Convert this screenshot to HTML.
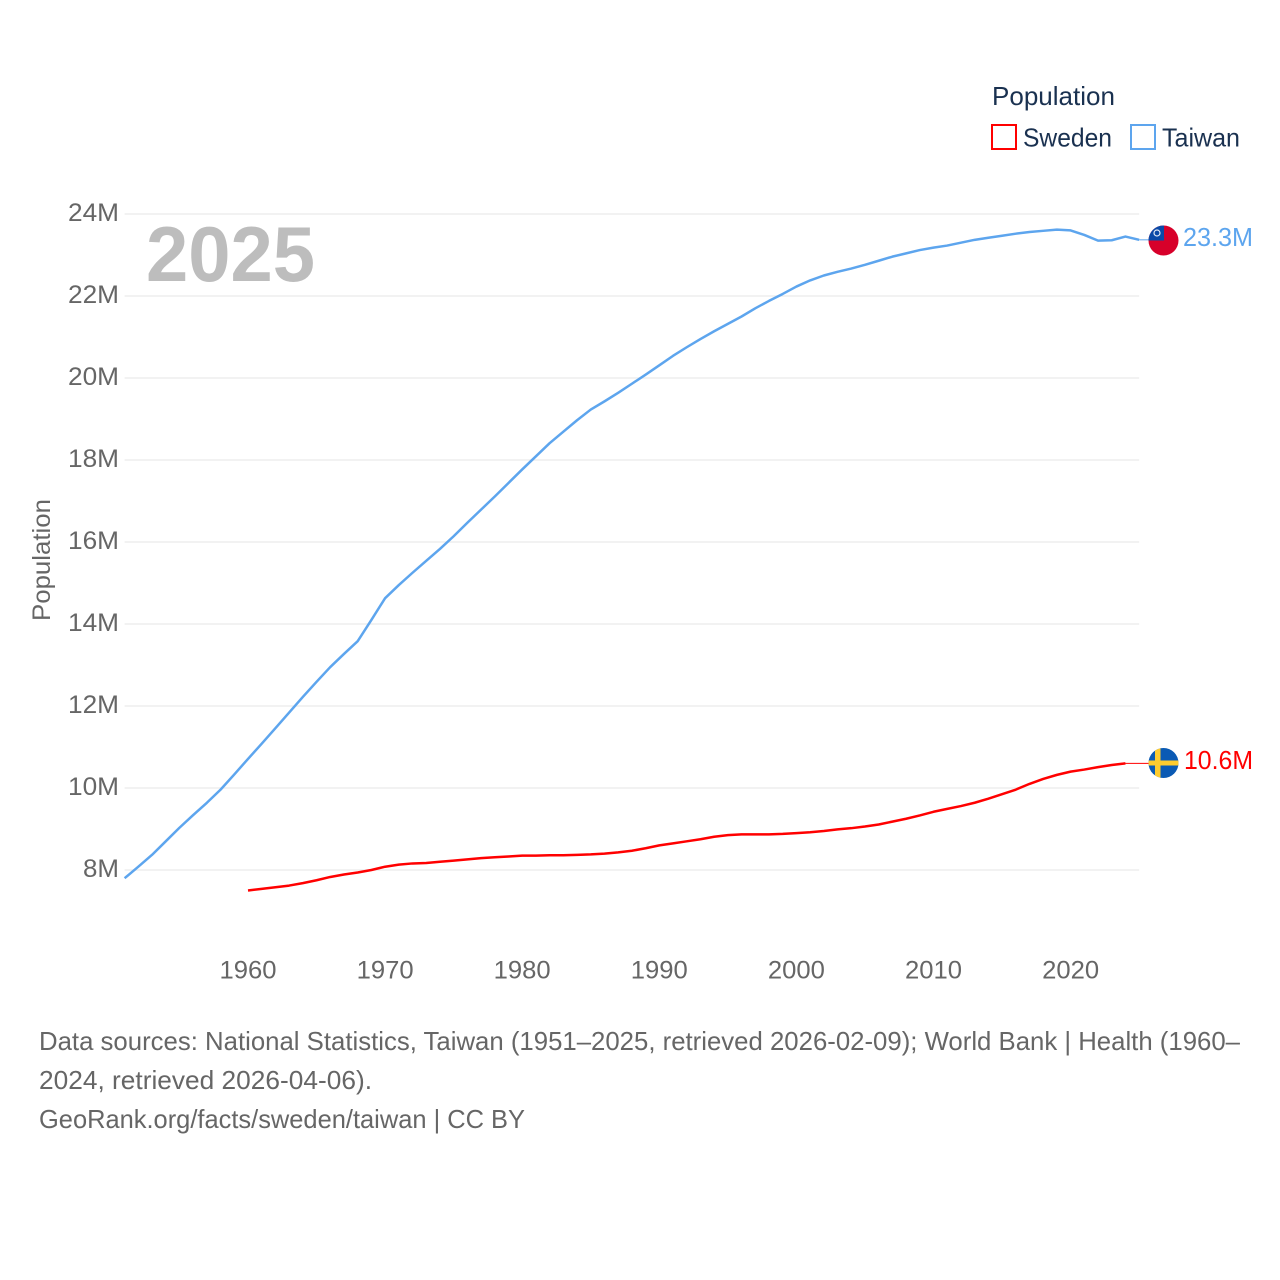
<!DOCTYPE html>
<html lang="en">
<head>
<meta charset="utf-8">
<title>Population: Sweden and Taiwan</title>
<style>
html,body{margin:0;padding:0;background:#fff;}
svg{display:block;font-family:"Liberation Sans",sans-serif;}
</style>
</head>
<body>
<svg id="chart" xmlns="http://www.w3.org/2000/svg" width="1280" height="1280" viewBox="0 0 1280 1280">
  <defs>
    <clipPath id="tw-clip"><circle cx="1163.5" cy="240.5" r="15"/></clipPath>
    <clipPath id="se-clip"><circle cx="1163.5" cy="763" r="15"/></clipPath>
  </defs>
  <rect width="1280" height="1280" fill="#fff"/>
  <g id="grid"></g>
  <g id="yticks"></g>
  <g id="xticks"></g>
  <text transform="translate(50,621) rotate(-90)" font-size="25" fill="#666" textLength="122" lengthAdjust="spacingAndGlyphs">Population</text>
  <text x="146" y="281" font-size="78" font-weight="bold" fill="#bdbdbd" textLength="169" lengthAdjust="spacingAndGlyphs">2025</text>
  <g id="series"></g>

  <g clip-path="url(#tw-clip)">
    <rect x="1148" y="225" width="31" height="31" fill="#d7002a"/>
    <rect x="1148" y="225" width="16" height="15.5" fill="#0a4aa8"/>
    <circle cx="1157" cy="233" r="3" fill="none" stroke="#dfe8f5" stroke-width="1.2"/>
  </g>
  <text x="1183" y="246" font-size="26" fill="#5da5ee" textLength="70" lengthAdjust="spacingAndGlyphs">23.3M</text>

  <g clip-path="url(#se-clip)">
    <rect x="1148" y="748" width="31" height="31" fill="#0a5ab4"/>
    <rect x="1155" y="748" width="5.5" height="31" fill="#fecc2f"/>
    <rect x="1148" y="760.5" width="31" height="5" fill="#fecc2f"/>
  </g>
  <text x="1184" y="769" font-size="26" fill="#ff0000" textLength="69" lengthAdjust="spacingAndGlyphs">10.6M</text>

  <g>
    <text x="992" y="105" font-size="26" fill="#1a3150" textLength="123" lengthAdjust="spacingAndGlyphs">Population</text>
    <rect x="992" y="125" width="24" height="24" fill="none" stroke="#ff0000" stroke-width="2"/>
    <text x="1023" y="146.5" font-size="26" fill="#1a3150" textLength="89" lengthAdjust="spacingAndGlyphs">Sweden</text>
    <rect x="1131" y="125" width="24" height="24" fill="none" stroke="#5da5ee" stroke-width="2"/>
    <text x="1162" y="146.5" font-size="26" fill="#1a3150" textLength="78" lengthAdjust="spacingAndGlyphs">Taiwan</text>
  </g>

  <g font-size="26" fill="#666">
    <text x="39" y="1050" textLength="1201" lengthAdjust="spacingAndGlyphs">Data sources: National Statistics, Taiwan (1951–2025, retrieved 2026-02-09); World Bank | Health (1960–</text>
    <text x="39" y="1089" textLength="333" lengthAdjust="spacingAndGlyphs">2024, retrieved 2026-04-06).</text>
    <text x="39" y="1128" textLength="486" lengthAdjust="spacingAndGlyphs">GeoRank.org/facts/sweden/taiwan | CC BY</text>
  </g>
</svg>
<script>
const taiwanYears = [1951,1952,1953,1954,1955,1956,1957,1958,1959,1960,1961,1962,1963,1964,1965,1966,1967,1968,1969,1970,1971,1972,1973,1974,1975,1976,1977,1978,1979,1980,1981,1982,1983,1984,1985,1986,1987,1988,1989,1990,1991,1992,1993,1994,1995,1996,1997,1998,1999,2000,2001,2002,2003,2004,2005,2006,2007,2008,2009,2010,2011,2012,2013,2014,2015,2016,2017,2018,2019,2020,2021,2022,2023,2024,2025];
const taiwanValues = [7.8,8.08,8.37,8.7,9.03,9.34,9.64,9.96,10.33,10.71,11.08,11.46,11.84,12.22,12.59,12.95,13.27,13.58,14.1,14.63,14.95,15.25,15.54,15.83,16.14,16.47,16.79,17.11,17.44,17.77,18.09,18.41,18.69,18.97,19.23,19.43,19.64,19.86,20.08,20.31,20.54,20.75,20.95,21.14,21.32,21.5,21.7,21.88,22.05,22.23,22.38,22.5,22.59,22.67,22.76,22.86,22.96,23.04,23.12,23.18,23.23,23.3,23.37,23.42,23.47,23.52,23.56,23.59,23.62,23.6,23.49,23.35,23.36,23.45,23.37];
const swedenYears = [1960,1961,1962,1963,1964,1965,1966,1967,1968,1969,1970,1971,1972,1973,1974,1975,1976,1977,1978,1979,1980,1981,1982,1983,1984,1985,1986,1987,1988,1989,1990,1991,1992,1993,1994,1995,1996,1997,1998,1999,2000,2001,2002,2003,2004,2005,2006,2007,2008,2009,2010,2011,2012,2013,2014,2015,2016,2017,2018,2019,2020,2021,2022,2023,2024];
const swedenValues = [7.5,7.54,7.58,7.62,7.68,7.75,7.83,7.89,7.94,8.0,8.08,8.13,8.16,8.17,8.2,8.23,8.26,8.29,8.31,8.33,8.35,8.35,8.36,8.36,8.37,8.38,8.4,8.43,8.47,8.53,8.6,8.65,8.7,8.75,8.81,8.85,8.87,8.87,8.87,8.88,8.9,8.92,8.95,8.99,9.02,9.06,9.11,9.18,9.25,9.33,9.42,9.49,9.56,9.64,9.74,9.85,9.96,10.1,10.22,10.32,10.4,10.45,10.51,10.56,10.6];
const yTickValues = [8,10,12,14,16,18,20,22,24];
const yTickLabels = ["8M","10M","12M","14M","16M","18M","20M","22M","24M"];
const xTickYears = [1960,1970,1980,1990,2000,2010,2020];

const NS = "http://www.w3.org/2000/svg";
const xScale = function (year) { return 248 + (year - 1960) * 13.71; };
const yScale = function (v) { return 870 - (v - 8) * 41; };
const plotLeft = xScale(1951);
const plotRight = xScale(2025);

const grid = document.getElementById("grid");
const yticks = document.getElementById("yticks");
const xticks = document.getElementById("xticks");
const series = document.getElementById("series");

yTickValues.forEach(function (v, i) {
  const ln = document.createElementNS(NS, "line");
  
  
  ln.setAttribute("x1", plotLeft);
  ln.setAttribute("x2", plotRight);
  ln.setAttribute("y1", yScale(v));
  ln.setAttribute("y2", yScale(v));
  ln.setAttribute("stroke", "#eeeeee");
  ln.setAttribute("stroke-width", "1.6");
  grid.appendChild(ln);

  const t = document.createElementNS(NS, "text");
  
  
  const w = yTickLabels[i].length * 15 + 6;
  t.setAttribute("x", 119 - w);
  t.setAttribute("y", yScale(v) + 7);
  t.setAttribute("font-size", "25");
  t.setAttribute("fill", "#666");
  t.setAttribute("textLength", w);
  t.setAttribute("lengthAdjust", "spacingAndGlyphs");
  t.textContent = yTickLabels[i];
  yticks.appendChild(t);
});

xTickYears.forEach(function (yr) {
  const t = document.createElementNS(NS, "text");
  
  
  t.setAttribute("x", xScale(yr) - 28.5);
  t.setAttribute("y", 978.5);
  t.setAttribute("font-size", "25");
  t.setAttribute("fill", "#666");
  t.setAttribute("textLength", 57);
  t.setAttribute("lengthAdjust", "spacingAndGlyphs");
  t.textContent = String(yr);
  xticks.appendChild(t);
});

function toPoints(years, values) {
  return years.map(function (y, i) {
    return xScale(y).toFixed(2) + "," + yScale(values[i]).toFixed(2);
  }).join(" ");
}

const lastTw = taiwanValues[taiwanValues.length - 1];
const twConn = document.createElementNS(NS, "line");


twConn.setAttribute("x1", xScale(taiwanYears[taiwanYears.length - 1]));
twConn.setAttribute("x2", 1149);
twConn.setAttribute("y1", yScale(lastTw));
twConn.setAttribute("y2", yScale(lastTw));
twConn.setAttribute("stroke", "#5da5ee");
twConn.setAttribute("stroke-width", "1");
series.appendChild(twConn);

const lastSe = swedenValues[swedenValues.length - 1];
const seConn = document.createElementNS(NS, "line");


seConn.setAttribute("x1", xScale(swedenYears[swedenYears.length - 1]));
seConn.setAttribute("x2", 1149);
seConn.setAttribute("y1", yScale(lastSe));
seConn.setAttribute("y2", yScale(lastSe));
seConn.setAttribute("stroke", "#ff0000");
seConn.setAttribute("stroke-width", "1");
series.appendChild(seConn);

const twLine = document.createElementNS(NS, "polyline");


twLine.setAttribute("points", toPoints(taiwanYears, taiwanValues));
twLine.setAttribute("fill", "none");
twLine.setAttribute("stroke", "#5da5ee");
twLine.setAttribute("stroke-width", "2.5");
twLine.setAttribute("stroke-linejoin", "round");
series.appendChild(twLine);

const seLine = document.createElementNS(NS, "polyline");


seLine.setAttribute("points", toPoints(swedenYears, swedenValues));
seLine.setAttribute("fill", "none");
seLine.setAttribute("stroke", "#ff0000");
seLine.setAttribute("stroke-width", "2.5");
seLine.setAttribute("stroke-linejoin", "round");
series.appendChild(seLine);
</script>
</body>
</html>
